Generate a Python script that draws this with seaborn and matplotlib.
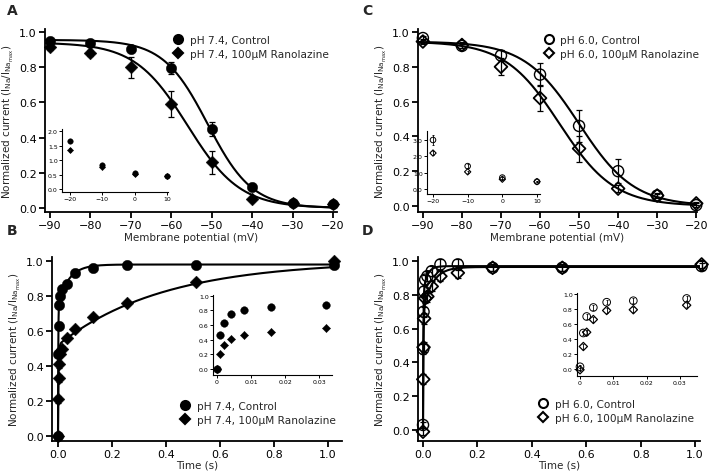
import numpy as np
import pandas as pd
import matplotlib
matplotlib.use("Agg")
import matplotlib.pyplot as plt
import seaborn as sns
from matplotlib.lines import Line2D

sns.set_style("ticks")
plt.rcParams['font.family'] = ['DejaVu Sans']
plt.rcParams['axes.linewidth'] = 1.3
plt.rcParams['xtick.major.width'] = 1.3
plt.rcParams['ytick.major.width'] = 1.3
plt.rcParams['xtick.major.size'] = 4
plt.rcParams['ytick.major.size'] = 4
plt.rcParams['xtick.color'] = 'black'
plt.rcParams['ytick.color'] = 'black'
plt.rcParams['axes.edgecolor'] = 'black'

# ---------------- data ----------------
voltages = [-90, -80, -70, -60, -50, -40, -30, -20]
a_ctrl = [0.95, 0.94, 0.905, 0.795, 0.45, 0.12, 0.03, 0.025]
a_ctrl_err = [0.01, 0.01, 0.015, 0.035, 0.04, 0.01, 0.005, 0.005]
a_rano = [0.915, 0.88, 0.80, 0.59, 0.26, 0.05, 0.03, 0.02]
a_rano_err = [0.015, 0.015, 0.06, 0.075, 0.065, 0.01, 0.005, 0.005]

c_ctrl = [0.965, 0.92, 0.865, 0.755, 0.46, 0.20, 0.06, 0.005]
c_ctrl_err = [0.01, 0.01, 0.03, 0.065, 0.09, 0.07, 0.015, 0.01]
c_rano = [0.945, 0.925, 0.80, 0.62, 0.33, 0.10, 0.06, 0.015]
c_rano_err = [0.015, 0.015, 0.05, 0.075, 0.075, 0.02, 0.01, 0.01]

# Boltzmann fit parameters [top, V1/2, k]
a_ctrl_fit = [0.955, -51.0, 5.5]
a_rano_fit = [0.94, -56.0, 6.5]
c_ctrl_fit = [0.945, -50.0, 7.0]
c_rano_fit = [0.945, -55.0, 7.0]

inset_v = [-20, -10, 0, 10]
ia_ctrl = [1.65, 0.83, 0.55, 0.45]
ia_rano = [1.35, 0.77, 0.53, 0.44]
ia_err = [0.06, 0.05, 0.03, 0.03]
ic_ctrl = [3.0, 1.4, 0.7, 0.45]
ic_ctrl_err = [0.3, 0.1, 0.06, 0.04]
ic_rano = [2.2, 1.05, 0.6, 0.45]
ic_rano_err = [0.1, 0.06, 0.04, 0.04]

times = [0, 0.001, 0.002, 0.004, 0.008, 0.016, 0.032, 0.064, 0.128, 0.256, 0.512, 1.024]
b_ctrl = [0.0, 0.47, 0.63, 0.75, 0.80, 0.84, 0.87, 0.93, 0.96, 0.98, 0.98, 0.98]
b_rano = [0.0, 0.21, 0.33, 0.41, 0.47, 0.50, 0.56, 0.61, 0.68, 0.76, 0.88, 1.0]
b_err = [0.0, 0.02, 0.02, 0.02, 0.015, 0.015, 0.01, 0.01, 0.01, 0.01, 0.01, 0.01]
d_ctrl = [0.03, 0.48, 0.70, 0.82, 0.89, 0.91, 0.94, 0.98, 0.98, 0.96, 0.96, 0.97]
d_rano = [-0.01, 0.30, 0.49, 0.66, 0.78, 0.79, 0.85, 0.91, 0.93, 0.96, 0.96, 0.98]
d_err = [0.02, 0.03, 0.03, 0.03, 0.03, 0.03, 0.03, 0.03, 0.03, 0.02, 0.02, 0.02]

# double-exponential fit parameters [top, A1, tau1, A2, tau2]
b_ctrl_fit = [0.98, 0.75, 0.001, 0.23, 0.04]
b_rano_fit = [1.0, 0.52, 0.002, 0.48, 0.39]
d_ctrl_fit = [0.97, 0.78, 0.0012, 0.16, 0.015]
d_rano_fit = [0.965, 0.70, 0.0015, 0.26, 0.035]

ylabel = r'Normalized current (I$_{\mathrm{Na}}$/I$_{\mathrm{Na}_{\mathrm{max}}}$)'

W, H = 709, 477
fig = plt.figure(figsize=(W / 100, H / 100), dpi=100)

TICK_FS = 8
LABEL_FS = 7.5
LEG_FS = 7.6


def px_axes(x0, y0, x1, y1):
    return fig.add_axes([x0 / W, 1 - y1 / H, (x1 - x0) / W, (y1 - y0) / H])


def boltz(v, p):
    return p[0] / (1 + np.exp((v - p[1]) / p[2]))


def dexp(t, p):
    return p[0] - p[1] * np.exp(-t / p[2]) - p[3] * np.exp(-t / p[4])


def style_main(ax):
    sns.despine(ax=ax)
    ax.tick_params(labelsize=TICK_FS, pad=2)
    for s in ax.spines.values():
        s.set_linewidth(1.3)


def style_inset(ax):
    sns.despine(ax=ax)
    ax.tick_params(labelsize=4.5, pad=1, length=2, width=0.7)
    for s in ['left', 'bottom']:
        ax.spines[s].set_linewidth(0.8)
    ax.set_facecolor('none')
    ax.patch.set_alpha(0)


def pts(ax, x, y, err, marker, ms, filled, ew=1.3, ecap=2.0, elw=0.9):
    ax.errorbar(x, y, yerr=err, fmt='none', ecolor='black', elinewidth=elw,
                capsize=ecap, capthick=elw, zorder=3, clip_on=False)
    sns.scatterplot(x=x, y=y, ax=ax, marker=marker, s=ms ** 2,
                    color='black' if filled else 'none',
                    edgecolor='black', linewidth=ew if not filled else 0.3,
                    zorder=4, clip_on=False, legend=False)


def fit_line(ax, x, y):
    sns.lineplot(x=x, y=y, ax=ax, color='black', linewidth=1.5, zorder=2,
                 sort=False, estimator=None)


vgrid = np.linspace(-91, -19.5, 400)
tgrid = np.concatenate([np.linspace(0, 0.05, 600), np.linspace(0.05, 1.03, 400)[1:]])

fmt1 = matplotlib.ticker.FormatStrFormatter('%.1f')

# ---------------- Panel A ----------------
axA = px_axes(45, 30, 337, 213)
fit_line(axA, vgrid, boltz(vgrid, a_ctrl_fit))
fit_line(axA, vgrid, boltz(vgrid, a_rano_fit))
pts(axA, voltages, a_rano, a_rano_err, 'D', 6.5, True)
pts(axA, voltages, a_ctrl, a_ctrl_err, 'o', 7.5, True)
axA.set_xlim(-91.24, -19.0)
axA.set_ylim(-0.0227, 1.017)
axA.set_xticks(range(-90, -19, 10))
axA.set_yticks(np.arange(0, 1.01, 0.2))
axA.yaxis.set_major_formatter(fmt1)
style_main(axA)
axA.set_xlabel('Membrane potential (mV)', fontsize=LABEL_FS, labelpad=1)
axA.set_ylabel(ylabel, fontsize=LABEL_FS, labelpad=2)

# ---------------- Panel C ----------------
axC = px_axes(418, 30, 697, 213)
fit_line(axC, vgrid, boltz(vgrid, c_ctrl_fit))
fit_line(axC, vgrid, boltz(vgrid, c_rano_fit))
pts(axC, voltages, c_rano, c_rano_err, 'D', 6.5, False)
pts(axC, voltages, c_ctrl, c_ctrl_err, 'o', 8, False, ew=1.0)
axC.set_xlim(-91.25, -19.8)
axC.set_ylim(-0.0345, 1.017)
axC.set_xticks(range(-90, -19, 10))
axC.set_yticks(np.arange(0, 1.01, 0.2))
axC.yaxis.set_major_formatter(fmt1)
style_main(axC)
axC.set_xlabel('Membrane potential (mV)', fontsize=LABEL_FS, labelpad=1)
axC.set_ylabel(ylabel, fontsize=LABEL_FS, labelpad=2)

# ---------------- Panel B ----------------
axB = px_axes(52, 258, 342, 442)
fit_line(axB, tgrid, dexp(tgrid, b_ctrl_fit))
fit_line(axB, tgrid, dexp(tgrid, b_rano_fit))
pts(axB, times, b_rano, b_err, 'D', 6.5, True)
pts(axB, times, b_ctrl, b_err, 'o', 7.5, True)
axB.set_xlim(-0.0222, 1.0518)
axB.set_ylim(-0.0286, 1.023)
axB.set_xticks(np.arange(0, 1.01, 0.2))
axB.set_yticks(np.arange(0, 1.01, 0.2))
axB.xaxis.set_major_formatter(fmt1)
axB.yaxis.set_major_formatter(fmt1)
style_main(axB)
axB.set_xlabel('Time (s)', fontsize=LABEL_FS, labelpad=0)
axB.set_ylabel(ylabel, fontsize=LABEL_FS, labelpad=2)

# ---------------- Panel D ----------------
axD = px_axes(418, 258, 700, 442)
fit_line(axD, tgrid, dexp(tgrid, d_ctrl_fit))
fit_line(axD, tgrid, dexp(tgrid, d_rano_fit))
pts(axD, times, d_rano, d_err, 'D', 6.5, False)
pts(axD, times, d_ctrl, d_err, 'o', 8, False, ew=1.0)
axD.set_xlim(-0.0184, 1.018)
axD.set_ylim(-0.065, 1.024)
axD.set_xticks(np.arange(0, 1.01, 0.2))
axD.set_yticks(np.arange(0, 1.01, 0.2))
axD.xaxis.set_major_formatter(fmt1)
axD.yaxis.set_major_formatter(fmt1)
style_main(axD)
axD.set_xlabel('Time (s)', fontsize=LABEL_FS, labelpad=0)
axD.set_ylabel(ylabel, fontsize=LABEL_FS, labelpad=2)

# ---------------- Insets ----------------
iA = px_axes(62, 130, 168, 193)
pts(iA, inset_v, ia_rano, ia_err, 'D', 3.2, True, ecap=1, elw=0.6)
pts(iA, inset_v, ia_ctrl, ia_err, 'o', 4, True, ecap=1, elw=0.6)
iA.set_xlim(-22.47, 10.31)
iA.set_ylim(-0.103, 2.07)
iA.set_xticks(inset_v)
iA.set_yticks([0, 0.5, 1.0, 1.5, 2.0])
iA.yaxis.set_major_formatter(fmt1)
style_inset(iA)

iC = px_axes(427, 132, 540, 195)
pts(iC, inset_v, ic_rano, ic_rano_err, 'D', 3.2, False, ew=0.8, ecap=1, elw=0.6)
pts(iC, inset_v, ic_ctrl, ic_ctrl_err, 'o', 4, False, ew=0.7, ecap=1, elw=0.6)
iC.set_xlim(-21.73, 10.87)
iC.set_ylim(-0.306, 3.55)
iC.set_xticks(inset_v)
iC.set_yticks([0, 1.0, 2.0, 3.0])
iC.yaxis.set_major_formatter(fmt1)
style_inset(iC)

inset_t = times[:7]
iB = px_axes(213, 296, 332, 376)
pts(iB, inset_t, b_rano[:7], b_err[:7], 'D', 4.2, True, ecap=1, elw=0.6)
pts(iB, inset_t, b_ctrl[:7], b_err[:7], 'o', 5.5, True, ecap=1, elw=0.6)
iB.set_xlim(-0.00118, 0.0338)
iB.set_ylim(-0.081, 1.01)
iB.set_xticks([0, 0.01, 0.02, 0.03])
iB.set_xticklabels(['0', '0.01', '0.02', '0.03'])
iB.set_yticks(np.arange(0, 1.01, 0.2))
iB.yaxis.set_major_formatter(fmt1)
style_inset(iB)

iD = px_axes(577, 294, 697, 377)
pts(iD, inset_t, d_rano[:7], d_err[:7], 'D', 4.2, False, ew=0.9, ecap=1, elw=0.6)
pts(iD, inset_t, d_ctrl[:7], d_err[:7], 'o', 5.5, False, ew=0.7, ecap=1, elw=0.6)
iD.set_xlim(-0.0009, 0.0351)
iD.set_ylim(-0.093, 1.013)
iD.set_xticks([0, 0.01, 0.02, 0.03])
iD.set_xticklabels(['0', '0.01', '0.02', '0.03'])
iD.set_yticks(np.arange(0, 1.01, 0.2))
iD.yaxis.set_major_formatter(fmt1)
style_inset(iD)

# ---------------- Legends ----------------
def legend(ax, labels, filled, anchor):
    ctrl_face = 'black' if filled else 'white'
    handles = [
        Line2D([], [], ls='none', marker='o', ms=6.5, mfc=ctrl_face, mec='black', mew=1.5),
        Line2D([], [], ls='none', marker='D', ms=5, mfc=ctrl_face, mec='black', mew=1.5),
    ]
    ax.legend(handles, labels, loc='upper left', bbox_to_anchor=anchor,
              frameon=False, fontsize=LEG_FS, handlelength=1.0, handletextpad=0.6,
              borderpad=0, labelspacing=0.35, borderaxespad=0)


legend(axA, ['pH 7.4, Control', 'pH 7.4, 100μM Ranolazine'], True, (0.438, 0.967))
legend(axC, ['pH 6.0, Control', 'pH 6.0, 100μM Ranolazine'], False, (0.45, 0.967))
legend(axB, ['pH 7.4, Control', 'pH 7.4, 100μM Ranolazine'], True, (0.441, 0.217))
legend(axD, ['pH 6.0, Control', 'pH 6.0, 100μM Ranolazine'], False, (0.4255, 0.228))

# ---------------- Panel letters ----------------
for lab, x, y in [('A', 7, 4), ('B', 7, 224), ('C', 362, 4), ('D', 362, 224)]:
    fig.text(x / W, 1 - y / H, lab, fontsize=10, fontweight='bold', va='top', ha='left')

fig.savefig('out.png', dpi=100)
